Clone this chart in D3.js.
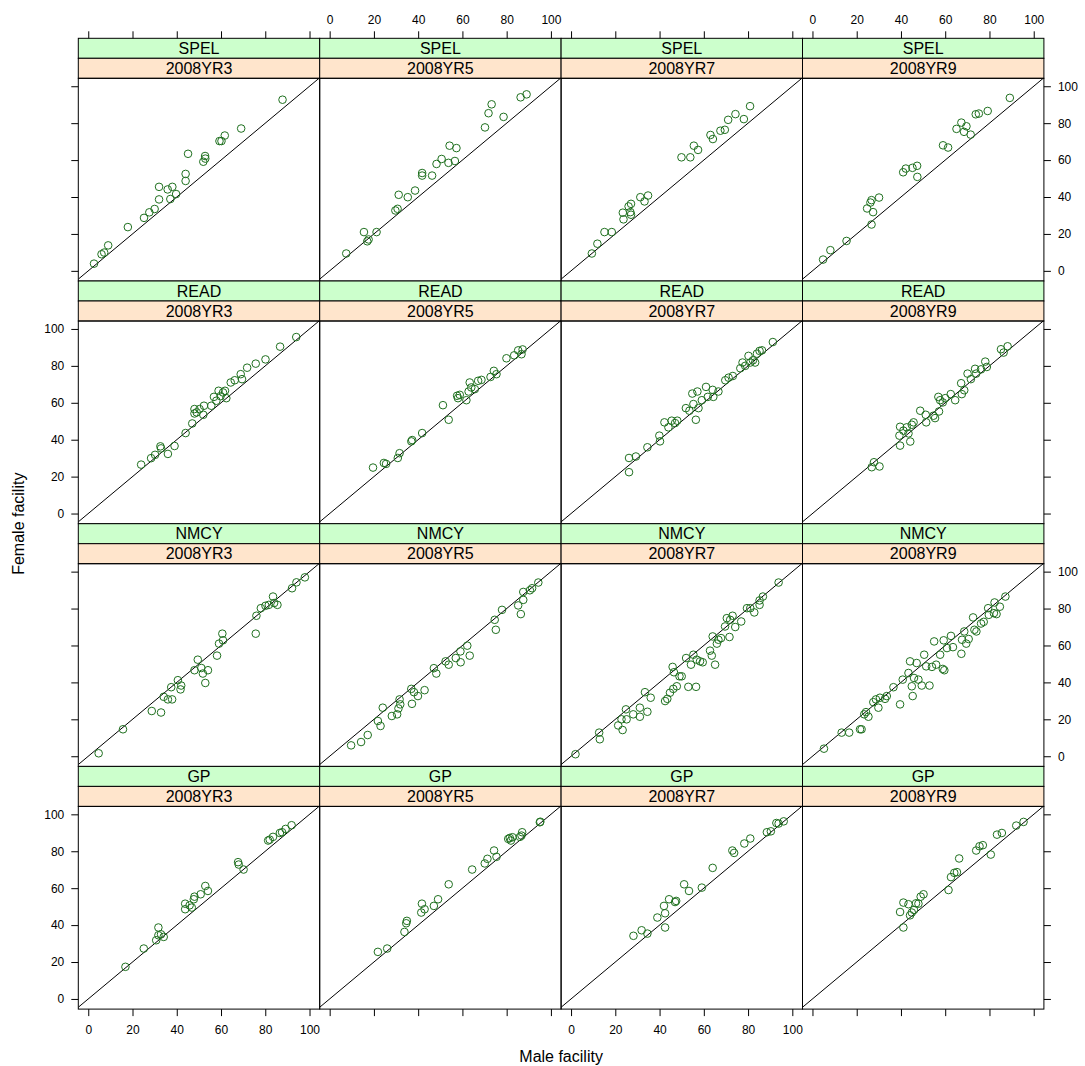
<!DOCTYPE html>
<html>
<head>
<meta charset="utf-8">
<title>Female vs male facility</title>
<style>
  body { margin: 0; background: #fff; }
  svg text { font-family: "Liberation Sans", Arial, sans-serif; fill: #000; }
</style>
</head>
<body>
<div id="chart"></div>
<script src="https://d3js.org/d3.v7.min.js"></script>
<script>
var subjects = ["SPEL", "READ", "NMCY", "GP"];
var years = ["2008YR3", "2008YR5", "2008YR7", "2008YR9"];
var ticks = [0, 20, 40, 60, 80, 100];

// [male facility, female facility] per school, one array per panel
var spel3 = [[2.6,3.9],[6,9],[7.2,9.9],[9,13.8],[17.9,23.7],[25.2,28.7],[27.6,31.7],[30,33.5],[32,38.7],[32,45.5],[35.9,44.1],[38,45.5],[37.1,38.9],[39.7,41.6],[44,48.7],[44,52.5],[45.1,63.4],[52,59.1],[52.8,62.2],[52.9,60.8],[59.3,70.3],[60.2,70.3],[61.7,73.3],[69.1,77.1],[87.8,92.7]];
var spel5 = [[7.5,9.4],[15.5,21],[17,16],[17.6,17],[21.2,21],[29.7,32.7],[30.7,33.6],[31.2,41.2],[35.3,39.9],[38.6,43.5],[41.8,51.6],[41.8,53],[46.3,51.6],[48.3,57.9],[50.6,60.6],[53.7,58.5],[54.2,67.8],[56.6,59.5],[57.3,66.5],[70.2,77.7],[71.8,85.4],[78.6,83.4],[73.2,90.2],[86.3,94],[89,95.6]];
var spel7 = [[9.4,9.4],[11.9,14.7],[15.1,21],[18.4,21],[23.7,27.9],[23.4,31.5],[26,34.9],[27.1,36.3],[26.8,31.8],[27.1,30.4],[31.3,39.9],[33.2,37.6],[34.8,40.8],[49.9,61.5],[53.9,61.5],[55.5,67.8],[57.4,65.5],[63,73.6],[64.1,71.4],[67.5,75.9],[69.5,76.4],[71,81.8],[74.3,84.9],[78.1,82.2],[80.9,89.2]];
var spel9 = [[4.8,6.1],[8.1,11.2],[15.4,16.2],[24.7,33.8],[26.2,37],[26.7,38.3],[26.7,25.1],[27.4,31.8],[30.1,39.7],[41,53.4],[42.2,55.4],[45.2,55.8],[47.3,56.9],[47.4,50.9],[59,68],[61.3,66.8],[65.1,76.9],[67.3,80.3],[68.5,75.3],[69.6,78.3],[71.5,73.8],[73.8,84.8],[75.2,85.2],[79.2,86.6],[89.2,93.7]];

var read3 = [[23.9,26.5],[28.4,30],[30.2,31.8],[32.6,36.4],[32.9,35.3],[36,32.3],[39,36.6],[44,43.6],[47,48.8],[48,56.6],[48,54.2],[49,54.8],[50.3,56.6],[52,53.5],[52.3,58.4],[55.6,58.4],[56.8,63.2],[57.9,61.1],[58.9,66.5],[59.8,63.6],[60.9,65.6],[61.8,66.5],[62.4,62.5],[64.4,71],[66.2,72.2],[68.9,75.5],[69.5,72.8],[71.8,79],[75.7,81.2],[80.1,83.5],[86.7,90.4],[94,95.6]];
var read5 = [[19.6,24.9],[24.5,27.4],[25.5,26.9],[30.8,30.1],[31.6,32.7],[36.9,39.1],[37.3,39.8],[41.8,43.6],[51.2,58.7],[53.8,50.8],[57.6,63.8],[58,62.5],[58.8,64.3],[61.8,61.4],[62.8,66.1],[63.3,71],[64,68.3],[65.6,67.4],[67.1,71.9],[68.6,72.4],[72.7,74],[74.2,77.3],[75.4,75.5],[79.9,84.1],[83.4,85.7],[85.2,88.4],[87.2,88.9],[86.7,86.3]];
var read7 = [[26.2,22.4],[26.2,30.1],[29.3,30.9],[34.5,35.9],[39.9,42.2],[40.2,39.1],[42.2,49.4],[44,46.7],[45.5,50.3],[47,49],[48,50.3],[51.9,57.1],[53.5,55.7],[54.8,65],[55.3,59.3],[56.4,50.8],[57.1,66.1],[57.6,57.1],[59.1,61.4],[61,68.6],[61.8,63.2],[64,67],[64.3,63.2],[66.6,66.1],[69.7,72.2],[71.2,73.6],[73.1,74.5],[76.5,78.7],[77.5,81.8],[78.7,80],[80.2,85.4],[81,81.8],[82.2,83],[83.2,81.8],[84,86.6],[85.2,88.1],[86.3,88.4],[91.2,92.9]];
var read9 = [[26.8,25.1],[27.8,27.8],[30.3,25.5],[39.6,36.8],[39.3,42.2],[39.6,47],[41.1,44.9],[42.6,46.7],[44.2,39],[43.4,43.4],[44.9,48.1],[45.7,49.4],[48.7,55.7],[51.2,53.5],[51.4,49.4],[54.7,53],[55.4,51.7],[57.2,55.3],[56.9,63.2],[57.7,61.4],[58.9,60.2],[60,62.5],[62.5,64.7],[64.5,61.4],[67.2,70.6],[67.5,64.7],[68.6,66.8],[70.1,75.8],[71.6,72.8],[73.5,78.4],[74,75.8],[76.2,78.1],[78.1,82.3],[78.8,79.4],[85.2,89],[86.4,87.2],[88.2,90.6]];

var nmcy3 = [[4.7,1.6],[15.7,14.6],[28.7,24.5],[32.9,23.7],[34.1,32.2],[36,30.8],[37.5,37.4],[37.9,30.8],[40.5,41.2],[41.7,36.2],[42,38.3],[48,46.6],[49.5,52.3],[51.1,47.8],[51.8,44.8],[52.9,39.7],[54.1,46.6],[58.2,54.5],[59.1,61],[60.6,66.4],[60.9,62.8],[75.7,66.4],[76,76.1],[78,80.2],[80.1,81.5],[81.6,82],[83.5,86.5],[85.5,82],[84,83],[92.1,91],[94.1,94.2],[97.9,96.9]];
var nmcy5 = [[9.7,5.9],[14.2,7.7],[17.2,11.5],[21.8,19.1],[23,16.4],[24,26.3],[28.1,21.8],[30.5,22.7],[31.1,25.9],[31.6,30.8],[31.9,28.1],[36.9,36.5],[37.2,28.4],[38.1,34.7],[39.9,32.6],[42.9,35.8],[47.1,47.7],[48.2,44.8],[52.4,51.4],[53.8,49.6],[57,53.2],[59.1,56.8],[59.2,50.9],[62.2,59.9],[63.3,54.5],[74.6,73.9],[75.1,68.5],[77.9,79.3],[85.2,81.7],[86.4,77],[87.5,84.7],[87.5,89],[90.5,89.9],[91.5,91],[94.3,94.1]];
var nmcy7 = [[2,1.1],[12.7,12.8],[13,9.2],[21.3,16.7],[22.8,20],[23.3,14.2],[24.8,25.4],[25.1,20],[28.1,22.7],[31.1,21.4],[31.1,26.3],[33.4,34.7],[34.5,24.1],[36,31.7],[42.5,29.9],[43.5,31.1],[44.7,34.4],[45.9,48.4],[46.2,36.5],[46.5,45.5],[47.8,37.9],[49,43.3],[50,43.3],[52,53.2],[53,37.6],[55.3,55],[54.2,49.6],[56.5,37.6],[56.8,52.3],[58.3,51.4],[59.5,50.9],[62.8,57.2],[63.6,54.5],[64,64.9],[65.1,49.6],[65.9,61],[66.6,63.1],[67.8,64],[69.6,70.3],[70.4,74.8],[71.6,64.6],[71.9,73.9],[73,76.1],[74.2,70],[76.9,73],[79.5,80.2],[81,80.2],[82.8,77.9],[85.2,82],[85.2,84.4],[86.7,86.5],[93.8,94.1]];
var nmcy9 = [[5.2,4.1],[13.2,12.8],[16.6,12.8],[21.5,14.6],[22.2,14.6],[23.4,22.7],[24.2,23.9],[25.3,21.4],[27.5,29.3],[28.7,30.8],[29.8,26.3],[30.5,31.7],[32.8,31.1],[33.6,32.6],[36.6,37.4],[39.6,28.1],[40.8,41.5],[43.4,45.1],[44.1,51.4],[44.9,37.9],[45.3,32.6],[45.9,42.4],[47.1,50.5],[47.9,41.5],[49.4,38.3],[50.5,55],[51.4,48.7],[52.9,38.3],[54,48.4],[55,62.2],[55.9,49.6],[57.7,55],[58.9,47.3],[59.3,62.8],[59.6,46.6],[60.8,58.6],[62.6,65.2],[63.5,59.1],[67.3,55.5],[67.6,63.1],[68.6,67.6],[69.5,61],[70.6,63.5],[72.6,75.2],[73.2,68.5],[74.1,67.6],[76.2,71.9],[77.4,72.8],[79.4,80.2],[79.7,76.6],[82,77.5],[82.3,83.3],[83.2,77],[84.7,81],[87.2,86.5]];

var gp3 = [[16.8,17.4],[25.1,27.3],[30.7,31.8],[31.7,38.7],[31.7,34.5],[34.1,33.6],[32.9,35],[43.8,51.6],[43.8,48.6],[45.8,50.7],[46.8,49.5],[47.7,54],[48,55.4],[50.8,56.7],[52.9,61.2],[54.1,58.5],[67.7,74.1],[68,72.8],[70.2,70.1],[81.3,85.8],[82,86.3],[83.5,87.8],[86.6,89.9],[87.6,90.3],[89.2,92.1],[91.9,94.1]];
var gp5 = [[21.8,25.5],[26,27.3],[33.8,36.3],[34.6,41],[34.9,42.3],[41.4,46.8],[41.7,51.6],[42.9,48.6],[47.1,50.4],[49,54],[53.8,62.1],[64.4,70.1],[70.1,73.4],[71.3,75.9],[74.3,80.4],[75.4,77],[80.7,86.7],[81.4,87.2],[81.9,85.8],[82.6,87.6],[86,87.8],[87,90.3],[86.7,88.5],[95,95.7],[95.2,96]];
var gp7 = [[28.2,34.2],[31.9,37.2],[34.5,35.4],[39,44.1],[42,50.4],[42.5,46.4],[42.5,38.7],[44.3,54],[47,52.5],[47.5,53.1],[51.1,62.1],[53.3,58.5],[59.1,60.3],[64,71],[72.9,80.4],[73.7,79.1],[78.3,84.2],[81,86.9],[88.5,90.3],[90.3,90.8],[92.8,95.3],[93.8,95],[96.1,96.2]];
var gp9 = [[39.6,47.1],[41.1,52.2],[41.1,38.7],[43.4,51.3],[44.1,45.3],[44.9,46.8],[45.9,48.2],[46.8,51.8],[47.9,51.6],[48.9,55.4],[50.2,56.7],[61.5,59],[62.6,66],[64.1,68.3],[65.3,68.7],[66.3,76.1],[74,80.4],[75.5,82.7],[77,83.3],[80.6,78.2],[83.4,89],[85.6,89.9],[92.1,93.9],[95.4,95.9]];

var panelData = {
  SPEL: [spel3, spel5, spel7, spel9],
  READ: [read3, read5, read7, read9],
  NMCY: [nmcy3, nmcy5, nmcy7, nmcy9],
  GP:   [gp3, gp5, gp7, gp9]
};

var W = 1085, H = 1066;
var padLeft = 78.3, padTop = 38.3;
var colW = 241.4, stripH = 20, panelH = 202.7;
var rowH = 2 * stripH + panelH;
var tickLen = 7, tickFont = 12;

var x = d3.scaleLinear().domain([-4.5, 104.6]).range([0, colW]);
var y = d3.scaleLinear().domain([-5.5, 104.3]).range([panelH, 0]);

var svg = d3.select("#chart").append("svg")
    .attr("width", W)
    .attr("height", H);

svg.append("defs").append("clipPath").attr("id", "clip")
  .append("rect").attr("width", colW).attr("height", panelH);

function styleAxis(g) {
  g.select(".domain").remove();
  g.selectAll(".tick line").attr("stroke", "#000");
  g.selectAll(".tick text").style("font-size", tickFont + "px").attr("fill", "#000");
}

subjects.forEach(function(subj, r) {
  years.forEach(function(yr, c) {
    var gx = padLeft + c * colW,
        gy = padTop + r * rowH;
    var g = svg.append("g").attr("transform", "translate(" + gx + "," + gy + ")");

    // strips: subject on top (green), year below (peach)
    g.append("rect").attr("width", colW).attr("height", stripH)
      .attr("fill", "#ccffcc").attr("stroke", "#000");
    g.append("text").attr("x", colW / 2).attr("y", stripH / 2)
      .attr("dy", "0.36em").attr("text-anchor", "middle")
      .style("font-size", "16px").text(subj);
    g.append("rect").attr("y", stripH).attr("width", colW).attr("height", stripH)
      .attr("fill", "#ffe5cc").attr("stroke", "#000");
    g.append("text").attr("x", colW / 2).attr("y", stripH * 1.5)
      .attr("dy", "0.36em").attr("text-anchor", "middle")
      .style("font-size", "16px").text(yr);

    var p = g.append("g").attr("transform", "translate(0," + (2 * stripH) + ")");
    var inner = p.append("g").attr("clip-path", "url(#clip)");

    inner.append("line")
      .attr("x1", x(-4.5)).attr("y1", y(-4.5))
      .attr("x2", x(104.6)).attr("y2", y(104.6))
      .attr("stroke", "#000").attr("stroke-width", 1);

    inner.selectAll("circle")
      .data(panelData[subj][c])
      .enter().append("circle")
      .attr("cx", function(d) { return x(d[0]); })
      .attr("cy", function(d) { return y(d[1]); })
      .attr("r", 3.8)
      .attr("fill", "none")
      .attr("stroke", "#1f701f")
      .attr("stroke-width", 1);

    p.append("rect").attr("width", colW).attr("height", panelH)
      .attr("fill", "none").attr("stroke", "#000");

    // alternating axes, lattice style
    if (r === 0) {
      var at = d3.axisTop(x).tickValues(ticks).tickSize(tickLen).tickPadding(7).tickSizeOuter(0);
      if (c % 2 === 0) at.tickFormat("");
      g.append("g").call(at).call(styleAxis);
    }
    if (r === subjects.length - 1) {
      var ab = d3.axisBottom(x).tickValues(ticks).tickSize(tickLen).tickPadding(9).tickSizeOuter(0);
      if (c % 2 === 1) ab.tickFormat("");
      p.append("g").attr("transform", "translate(0," + panelH + ")").call(ab).call(styleAxis);
    }
    if (c === 0) {
      var al = d3.axisLeft(y).tickValues(ticks).tickSize(tickLen).tickPadding(7).tickSizeOuter(0);
      if (r % 2 === 0) al.tickFormat("");
      p.append("g").call(al).call(styleAxis);
    }
    if (c === years.length - 1) {
      var ar = d3.axisRight(y).tickValues(ticks).tickSize(tickLen).tickPadding(7).tickSizeOuter(0);
      if (r % 2 === 1) ar.tickFormat("");
      p.append("g").attr("transform", "translate(" + colW + ",0)").call(ar).call(styleAxis);
    }
  });
});

var totalW = colW * years.length,
    totalH = rowH * subjects.length;

svg.append("text")
  .attr("x", padLeft + totalW / 2).attr("y", 1062)
  .attr("text-anchor", "middle")
  .style("font-size", "16px")
  .text("Male facility");

svg.append("text")
  .attr("transform", "translate(24," + (padTop + totalH / 2) + ")rotate(-90)")
  .attr("text-anchor", "middle")
  .style("font-size", "16px")
  .text("Female facility");
</script>
</body>
</html>
